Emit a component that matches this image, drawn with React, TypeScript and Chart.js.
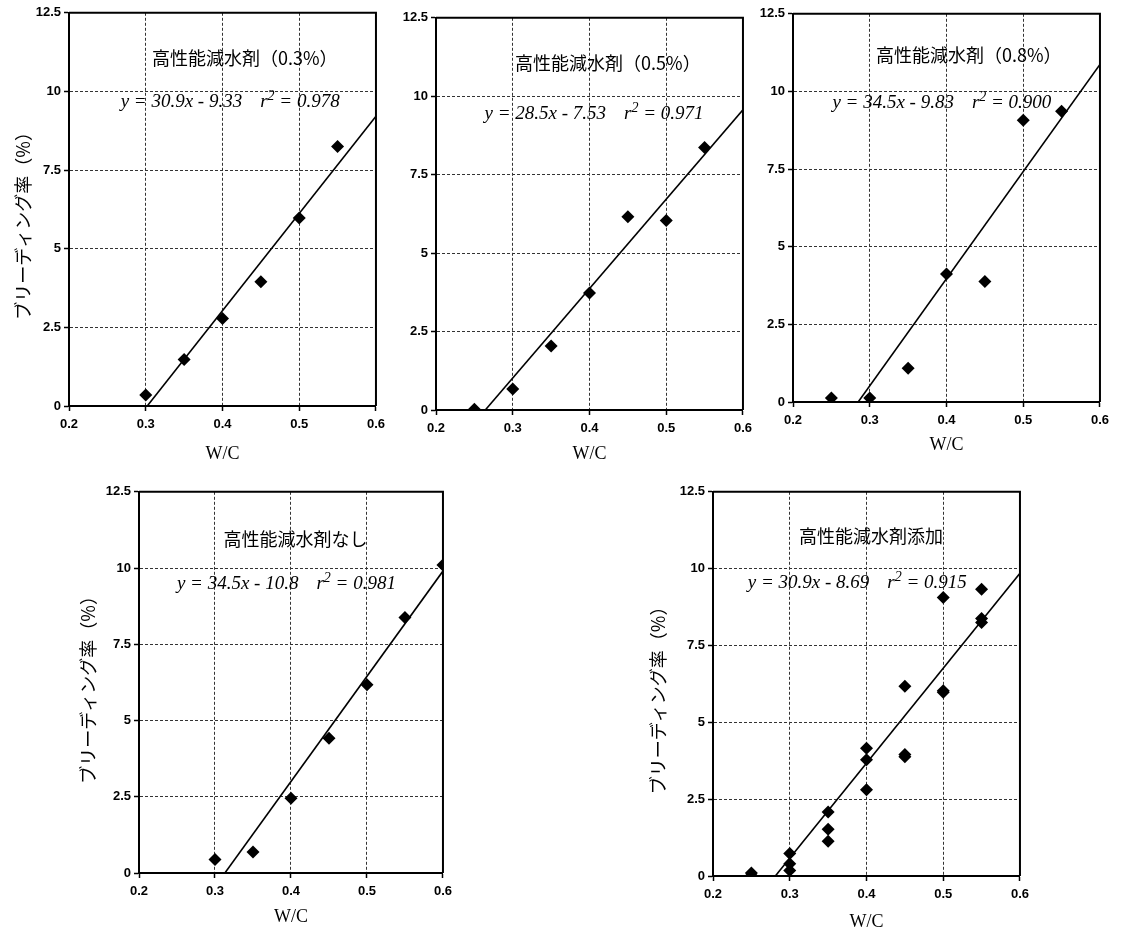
import React, { useEffect, useRef } from "react";
import { Chart, registerables } from "chart.js";

Chart.register(...registerables);

// ---------- data ----------
const xTickValues = [0.2, 0.3, 0.4, 0.5, 0.6];
const xTickLabels = ["0.2", "0.3", "0.4", "0.5", "0.6"];
const yTickValues = [0, 2.5, 5, 7.5, 10, 12.5];
const yTickLabels = ["0", "2.5", "5", "7.5", "10", "12.5"];

const panelTitles = [
  "高性能減水剤（0.3%）",
  "高性能減水剤（0.5%）",
  "高性能減水剤（0.8%）",
  "高性能減水剤なし",
  "高性能減水剤添加",
];
const axisTitleX = "W/C";
const axisTitleY = "ブリーディング率（%）";

// 高性能減水剤 0.3%
const wc03 = [0.3, 0.35, 0.4, 0.45, 0.5, 0.55];
const bleed03 = [0.35, 1.48, 2.78, 3.95, 5.98, 8.25];
// 高性能減水剤 0.5%
const wc05 = [0.25, 0.3, 0.35, 0.4, 0.45, 0.5, 0.55];
const bleed05 = [0.02, 0.67, 2.04, 3.73, 6.16, 6.04, 8.37];
// 高性能減水剤 0.8%
const wc08 = [0.25, 0.3, 0.35, 0.4, 0.45, 0.5, 0.55];
const bleed08 = [0.13, 0.13, 1.09, 4.12, 3.88, 9.07, 9.36];
// 高性能減水剤なし
const wcNone = [0.3, 0.35, 0.4, 0.45, 0.5, 0.55, 0.6];
const bleedNone = [0.44, 0.69, 2.45, 4.42, 6.17, 8.38, 10.1];
// 高性能減水剤添加 (all)
const wcAll = [0.25, 0.25, 0.3, 0.3, 0.3, 0.35, 0.35, 0.35, 0.4, 0.4, 0.4, 0.45, 0.45, 0.45, 0.5, 0.5, 0.5, 0.55, 0.55, 0.55];
const bleedAll = [0.02, 0.1, 0.73, 0.4, 0.18, 2.08, 1.52, 1.13, 4.16, 3.78, 2.81, 6.17, 3.95, 3.88, 9.06, 6.03, 5.98, 9.33, 8.38, 8.25];

// regression lines
const fitSlopes = [30.9, 28.5, 34.5, 34.5, 30.9];
const fitIntercepts = [-9.33, -7.53, -9.83, -10.8, -8.69];
const fitR2 = ["0.978", "0.971", "0.900", "0.981", "0.915"];

// ---------- layout ----------
const LEFT_SPACE = 65;
const TOP_PAD = 10;
const RIGHT_PAD = 15;
const BOTTOM_SPACE = 60;

type PanelCfg = {
  area: [number, number, number, number];
  wc: number[];
  bleed: number[];
  idx: number;
  yTitle: boolean;
  yTitleDx: number;
  yTitleDy: number;
  xTitleDy: number;
  titlePos: [number, number];
  eqPos: [number, number];
};

const panels: PanelCfg[] = [
  { area: [69, 12, 376, 406], wc: wc03, bleed: bleed03, idx: 0, yTitle: true, yTitleDx: 46, yTitleDy: 12, xTitleDy: 48, titlePos: [0.429, 11.05], eqPos: [0.41, 9.71] },
  { area: [436, 17, 743, 410], wc: wc05, bleed: bleed05, idx: 1, yTitle: false, yTitleDx: 0, yTitleDy: 0, xTitleDy: 44, titlePos: [0.424, 11.07], eqPos: [0.406, 9.48] },
  { area: [793, 13, 1100, 402], wc: wc08, bleed: bleed08, idx: 2, yTitle: false, yTitleDx: 0, yTitleDy: 0, xTitleDy: 43, titlePos: [0.429, 11.16], eqPos: [0.394, 9.66] },
  { area: [139, 491, 443, 873], wc: wcNone, bleed: bleedNone, idx: 3, yTitle: true, yTitleDx: 51, yTitleDy: 3, xTitleDy: 44, titlePos: [0.406, 10.94], eqPos: [0.394, 9.52] },
  { area: [713, 491, 1020, 876], wc: wcAll, bleed: bleedAll, idx: 4, yTitle: true, yTitleDx: 55, yTitleDy: 12, xTitleDy: 46, titlePos: [0.406, 11.06], eqPos: [0.388, 9.55] },
];

const TICK_FONT = { family: "'Liberation Sans', Arial, sans-serif", size: 13, weight: "bold" as const };

function makeOverlay(cfg: PanelCfg) {
  return {
    id: "overlay" + cfg.idx,
    afterDraw(chart: any) {
      const { ctx, chartArea: a, scales } = chart;
      const xs = scales.x;
      const ys = scales.y;
      ctx.save();
      // frame top/right
      ctx.strokeStyle = "#000";
      ctx.lineWidth = 2;
      ctx.beginPath();
      ctx.moveTo(a.left, a.top);
      ctx.lineTo(a.right, a.top);
      ctx.lineTo(a.right, a.bottom);
      ctx.stroke();

      ctx.fillStyle = "#000";
      // panel title
      ctx.font = "18px 'Noto Sans CJK JP', sans-serif";
      ctx.textAlign = "center";
      ctx.textBaseline = "middle";
      ctx.fillText(panelTitles[cfg.idx], xs.getPixelForValue(cfg.titlePos[0]), ys.getPixelForValue(cfg.titlePos[1]));

      // equation
      const slope = fitSlopes[cfg.idx];
      const icpt = fitIntercepts[cfg.idx];
      const part1 = `y = ${slope}x - ${Math.abs(icpt)}`;
      const part3 = ` = ${fitR2[cfg.idx]}`;
      const mainFont = "italic 19px 'Liberation Serif', serif";
      const supFont = "italic 14px 'Liberation Serif', serif";
      ctx.font = mainFont;
      const w1 = ctx.measureText(part1).width;
      const gap = 18;
      const wr = ctx.measureText("r").width;
      const w3 = ctx.measureText(part3).width;
      ctx.font = supFont;
      const w2 = ctx.measureText("2").width;
      const total = w1 + gap + wr + w2 + w3;
      const cx = xs.getPixelForValue(cfg.eqPos[0]);
      const base = ys.getPixelForValue(cfg.eqPos[1]) + 6;
      let x = cx - total / 2;
      ctx.textAlign = "left";
      ctx.textBaseline = "alphabetic";
      ctx.font = mainFont;
      ctx.fillText(part1, x, base);
      x += w1 + gap;
      ctx.fillText("r", x, base);
      x += wr;
      ctx.font = supFont;
      ctx.fillText("2", x, base - 7);
      x += w2;
      ctx.font = mainFont;
      ctx.fillText(part3, x, base);

      // x-axis title
      ctx.font = "18px 'Liberation Serif', serif";
      ctx.textAlign = "center";
      ctx.textBaseline = "middle";
      ctx.fillText(axisTitleX, (a.left + a.right) / 2, a.bottom + cfg.xTitleDy);

      // y-axis title
      if (cfg.yTitle) {
        ctx.translate(a.left - cfg.yTitleDx, (a.top + a.bottom) / 2 + cfg.yTitleDy);
        ctx.rotate(-Math.PI / 2);
        ctx.font = "18px 'Noto Sans CJK JP', sans-serif";
        ctx.fillText(axisTitleY, 0, 0);
      }
      ctx.restore();
    },
  };
}

function Panel({ cfg }: { cfg: PanelCfg }) {
  const ref = useRef<HTMLCanvasElement>(null);
  const [l, t, r, b] = cfg.area;
  const cw = r - l + LEFT_SPACE + RIGHT_PAD;
  const ch = b - t + TOP_PAD + BOTTOM_SPACE;

  useEffect(() => {
    if (!ref.current) return;
    const slope = fitSlopes[cfg.idx];
    const icpt = fitIntercepts[cfg.idx];
    const x0 = -icpt / slope;
    const x1 = xTickValues[xTickValues.length - 1];
    const gridColor = (c: any) => {
      const n = c.scale.ticks.length;
      return c.index === 0 || c.index === n - 1 ? "rgba(0,0,0,0)" : "#333";
    };
    const chart = new Chart(ref.current, {
      type: "scatter",
      data: {
        datasets: [
          {
            type: "line",
            data: [
              { x: x0, y: slope * x0 + icpt },
              { x: x1, y: slope * x1 + icpt },
            ],
            borderColor: "#000",
            borderWidth: 1.6,
            pointRadius: 0,
            fill: false,
            showLine: true,
          } as any,
          {
            data: cfg.wc.map((v, i) => ({ x: v, y: cfg.bleed[i] })),
            pointStyle: "rectRot",
            pointRadius: 6.5,
            backgroundColor: "#000",
            borderColor: "#000",
            borderWidth: 0,
          },
        ],
      },
      options: {
        animation: false,
        responsive: false,
        devicePixelRatio: 1,
        layout: { padding: { left: 0, top: TOP_PAD, right: RIGHT_PAD, bottom: 0 } },
        plugins: { legend: { display: false }, tooltip: { enabled: false } },
        scales: {
          x: {
            type: "linear",
            min: 0.2,
            max: 0.6,
            afterBuildTicks: (s: any) => {
              s.ticks = xTickValues.map((v) => ({ value: v }));
            },
            afterFit: (s: any) => {
              s.height = BOTTOM_SPACE;
            },
            ticks: {
              callback: (_v: any, i: number) => xTickLabels[i],
              font: TICK_FONT,
              color: "#000",
              padding: 6,
              maxRotation: 0,
              autoSkip: false,
            },
            grid: { color: gridColor, lineWidth: 1, tickColor: "#000", tickLength: 5, tickWidth: 1.5 },
            border: { display: true, color: "#000", width: 2, dash: [3, 2] },
          },
          y: {
            type: "linear",
            min: 0,
            max: 12.5,
            afterBuildTicks: (s: any) => {
              s.ticks = yTickValues.map((v) => ({ value: v }));
            },
            afterFit: (s: any) => {
              s.width = LEFT_SPACE;
            },
            ticks: {
              callback: (_v: any, i: number) => yTickLabels[i],
              font: TICK_FONT,
              color: "#000",
              padding: 3,
              autoSkip: false,
            },
            grid: { color: gridColor, lineWidth: 1, tickColor: "#000", tickLength: 5, tickWidth: 1.5 },
            border: { display: true, color: "#000", width: 2, dash: [3, 2] },
          },
        },
      },
      plugins: [makeOverlay(cfg)],
    } as any);
    return () => chart.destroy();
  }, [cfg]);

  return (
    <canvas
      ref={ref}
      width={cw}
      height={ch}
      style={{ position: "absolute", left: l - LEFT_SPACE, top: t - TOP_PAD, width: cw, height: ch }}
    />
  );
}

export default function App() {
  return (
    <div style={{ position: "absolute", left: 0, top: 0, width: 1122, height: 933, background: "#fff", overflow: "hidden" }}>
      {panels.map((p) => (
        <Panel key={p.idx} cfg={p} />
      ))}
    </div>
  );
}
